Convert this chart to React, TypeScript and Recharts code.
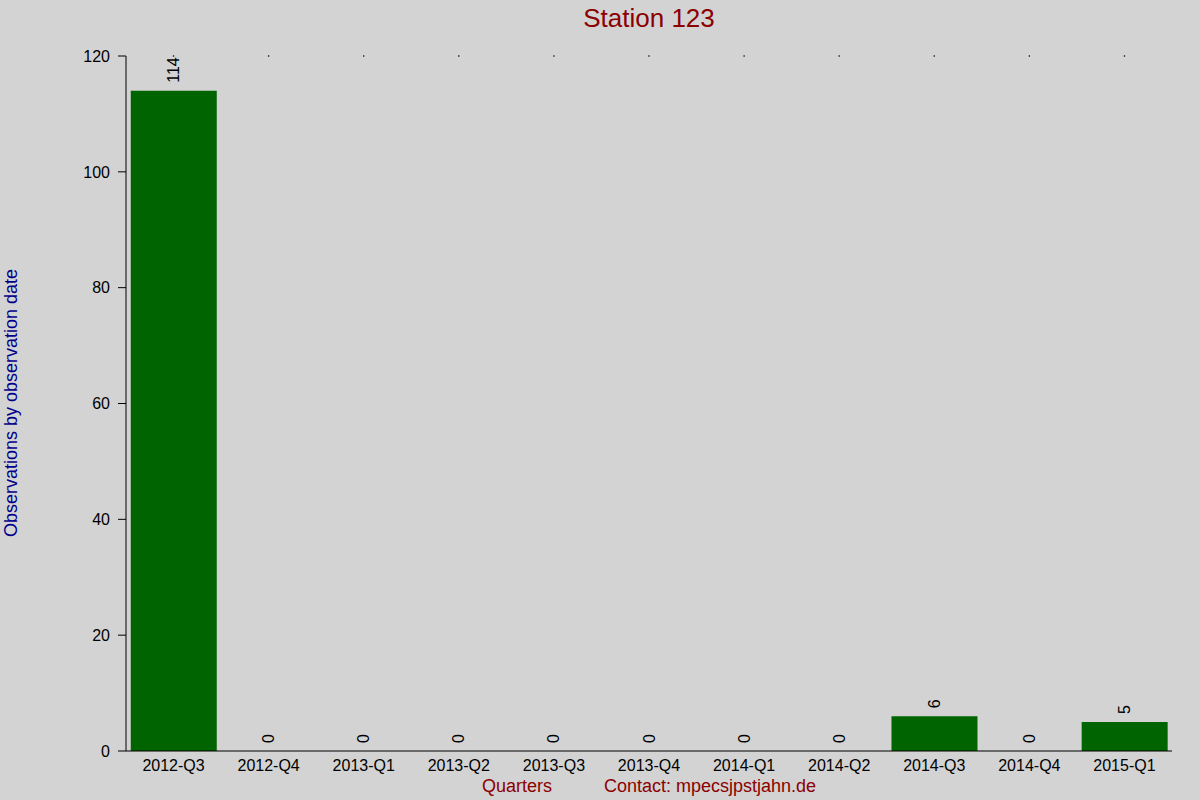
import { BarChart, Bar, XAxis, YAxis, ReferenceDot } from "recharts";

const quarters = [
  "2012-Q3",
  "2012-Q4",
  "2013-Q1",
  "2013-Q2",
  "2013-Q3",
  "2013-Q4",
  "2014-Q1",
  "2014-Q2",
  "2014-Q3",
  "2014-Q4",
  "2015-Q1",
];
const observations = [114, 0, 0, 0, 0, 0, 0, 0, 6, 0, 5];
const yTicks = [0, 20, 40, 60, 80, 100, 120];

const data = quarters.map((q, i) => ({ quarter: q, count: observations[i] }));

const FONT = "'Liberation Sans', Arial, Helvetica, sans-serif";

// value printed sideways above the bar top (also for zero bars)
const valueLabel = (value: number) => (props: any) => {
  const cx = Number(props.cx);
  const ty = Number(props.cy) - 8;
  return (
    <text
      x={cx}
      y={ty}
      transform={`rotate(-90 ${cx} ${ty})`}
      textAnchor="start"
      dominantBaseline="central"
      fontSize={16}
      fontFamily={FONT}
      fill="#000"
    >
      {value}
    </text>
  );
};

export default function App() {
  return (
    <div
      style={{
        position: "absolute",
        left: 0,
        top: 0,
        width: 1200,
        height: 800,
        background: "#d3d3d3",
        fontFamily: FONT,
      }}
    >
      <BarChart
        width={1200}
        height={800}
        data={data}
        margin={{ top: 56, right: 28, bottom: 19, left: 0 }}
        barCategoryGap="5%"
      >
        <XAxis
          dataKey="quarter"
          interval={0}
          height={30}
          tickLine={false}
          tickSize={6}
          tickMargin={3}
          axisLine={{ stroke: "#000" }}
          tick={{ fill: "#000", fontSize: 16, fontFamily: FONT }}
        />
        <YAxis
          width={126}
          domain={[0, 120]}
          ticks={yTicks}
          tickSize={8}
          tickMargin={8}
          axisLine={{ stroke: "#000" }}
          tickLine={{ stroke: "#000" }}
          tick={{ fill: "#000", fontSize: 16, fontFamily: FONT }}
        />
        <Bar dataKey="count" fill="#006400" isAnimationActive={false} />
        {quarters.map((q, i) => (
          <ReferenceDot
            key={"v" + q}
            x={q}
            y={observations[i]}
            shape={valueLabel(observations[i])}
          />
        ))}
        {quarters.map((q) => (
          <ReferenceDot key={q} x={q} y={120} r={0.8} fill="#000" stroke="none" />
        ))}
      </BarChart>
      <svg
        width={1200}
        height={800}
        style={{ position: "absolute", left: 0, top: 0, pointerEvents: "none" }}
      >
        <text x={649} y={27} textAnchor="middle" fontSize={26} fontFamily={FONT} fill="#8b0000">
          Station 123
        </text>
        <text x={517} y={792} textAnchor="middle" fontSize={18} fontFamily={FONT} fill="#8b0000">
          Quarters
        </text>
        <text x={710} y={792} textAnchor="middle" fontSize={18} fontFamily={FONT} fill="#8b0000">
          Contact: mpecsjpstjahn.de
        </text>
        <text
          x={11}
          y={403}
          transform="rotate(-90 11 403)"
          textAnchor="middle"
          dominantBaseline="central"
          fontSize={18}
          fontFamily={FONT}
          fill="#00008b"
        >
          Observations by observation date
        </text>
      </svg>
    </div>
  );
}
